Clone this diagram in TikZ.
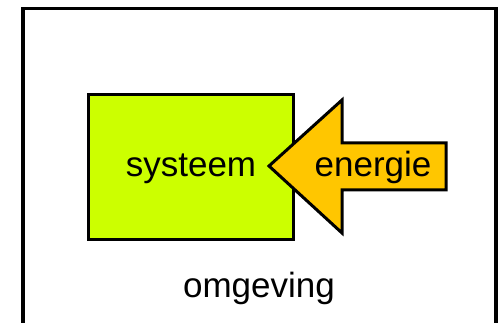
\documentclass[tikz,border=0pt]{standalone}
\usepackage{fontspec}
\setmainfont{Liberation Sans}
\definecolor{sysgreen}{HTML}{CCFF00}
\definecolor{energyorange}{HTML}{FFC600}
\begin{document}
\begin{tikzpicture}[x=1pt,y=-1pt,
  outline/.style={draw=black,line width=3pt,line join=miter},
  label/.style={font=\fontsize{35}{40}\selectfont,inner sep=0pt,anchor=base}]
\useasboundingbox[fill=white] (0,0) rectangle (498,323);
% surroundings frame (bottom edge runs off the page)
\draw[line width=3.5pt] (23,340) -- (23,8.5) -- (496,8.5) -- (496,340);
% system box
\draw[outline,fill=sysgreen] (88,95) rectangle (293,240);
\node[label] (sys) at (191,177) {systeem};
% energy arrow pointing into the system
\coordinate (tip) at (269,166);
\draw[outline,fill=energyorange]
  (tip) -- (342,100) -- (342,143) -- (446,143) -- (446,190)
  -- (342,190) -- (342,233) -- cycle;
\node[label] (en) at (373,177) {energie};
% label of the surroundings
\node[label] (omg) at (259,297) {omgeving};
\end{tikzpicture}
\end{document}
